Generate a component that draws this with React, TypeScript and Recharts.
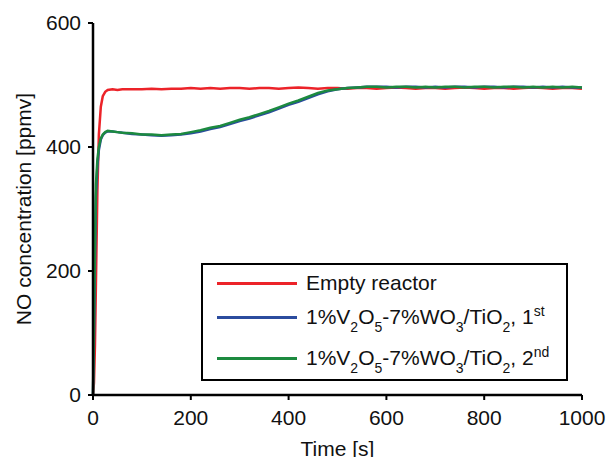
import { LineChart, Line, XAxis, YAxis, Legend } from "recharts";

const times = [
  0, 2, 4, 6, 9, 12, 16, 20, 25, 30, 40, 50, 60, 80,
  100, 120, 140, 160, 180, 200, 220, 240, 260, 280,
  300, 320, 340, 360, 380, 400, 420, 440, 460, 480,
  500, 520, 540, 560, 580, 600, 620, 640, 660, 680,
  700, 720, 740, 760, 780, 800, 820, 840, 860, 880,
  900, 920, 940, 960, 980, 1000,
];

const emptyReactor = [
  0, 20, 80, 180, 330, 420, 465, 482, 489, 492,
  493, 492, 493, 493,
  493, 494, 493, 494, 494, 495, 494, 495, 494, 495,
  495, 494, 495, 495, 494, 495, 496, 495, 494, 495,
  495, 494, 495, 495, 494, 495, 496, 495, 494, 495,
  495, 494, 495, 496, 495, 494, 495, 495, 494, 495,
  496, 495, 494, 495, 495, 494,
];

const firstRun = [
  0, 90, 210, 320, 370, 395, 412, 419, 423, 425,
  425, 424, 423, 421,
  420, 419, 418, 419, 420, 422, 425, 429, 432, 437,
  442, 446, 451, 456, 462, 468, 473, 479, 485, 490,
  493, 495, 496, 497, 497, 497, 496, 497, 497, 496,
  497, 496, 497, 497, 496, 497, 497, 496, 497, 497,
  496, 497, 496, 497, 496, 496,
];

const secondRun = [
  0, 120, 240, 340, 380, 400, 414, 420, 424, 426,
  425, 424, 423, 422,
  420, 420, 419, 420, 421, 424, 427, 431, 434, 439,
  444, 448, 453, 458, 464, 470, 475, 481, 487, 491,
  493, 495, 496, 497, 497, 496, 497, 497, 496, 497,
  496, 497, 497, 496, 497, 497, 496, 497, 497, 496,
  497, 496, 497, 496, 497, 496,
];

const xTicks = [0, 200, 400, 600, 800, 1000];
const yTicks = [0, 200, 400, 600];

const data = times.map((t, i) => ({
  t,
  empty: emptyReactor[i],
  first: firstRun[i],
  second: secondRun[i],
}));

const FONT = "'Liberation Sans', Arial, sans-serif";
const FS = 21;

const RED = "#ec2329";
const BLUE = "#2b4c9e";
const GREEN = "#1c8a3f";

const sub = { fontSize: 14, position: "relative" as const, top: 8 };
const sup = { fontSize: 14, position: "relative" as const, top: -8 };

function CatalystLabel({ run }: { run: "st" | "nd" }) {
  return (
    <span>
      1%V<span style={sub}>2</span>O<span style={sub}>5</span>-7%WO
      <span style={sub}>3</span>/TiO<span style={sub}>2</span>, {run === "st" ? "1" : "2"}
      <span style={sup}>{run}</span>
    </span>
  );
}

const legendRows = [
  { color: RED, top: 18, label: <span>Empty reactor</span> },
  { color: BLUE, top: 52, label: <CatalystLabel run="st" /> },
  { color: GREEN, top: 93, label: <CatalystLabel run="nd" /> },
];

function LegendBox() {
  return (
    <div
      style={{
        position: "relative",
        width: 363,
        height: 114,
        border: "2.5px solid #000",
        background: "#fff",
        fontFamily: FONT,
        fontSize: FS,
        color: "#111",
      }}
    >
      {legendRows.map((r, i) => (
        <div key={i} style={{ position: "absolute", left: 0, top: r.top, width: "100%" }}>
          <div
            style={{
              position: "absolute",
              left: 14,
              top: -1.5,
              width: 80,
              height: 3,
              background: r.color,
            }}
          />
          <div
            style={{
              position: "absolute",
              left: 103,
              top: -12,
              lineHeight: "24px",
              whiteSpace: "nowrap",
            }}
          >
            {r.label}
          </div>
        </div>
      ))}
    </div>
  );
}

export default function App() {
  return (
    <div style={{ position: "absolute", left: 0, top: 0, width: 606, height: 457, background: "#fff" }}>
      <LineChart
        width={606}
        height={457}
        data={data}
        margin={{ top: 23, right: 24, bottom: 0, left: 0 }}
      >
        <XAxis
          dataKey="t"
          type="number"
          domain={[0, 1000]}
          ticks={xTicks}
          height={62}
          stroke="#000"
          axisLine={{ strokeWidth: 2.5 }}
          tickLine={{ strokeWidth: 2 }}
          tickSize={5}
          tickMargin={10}
          tick={{ fill: "#111", fontSize: FS, fontFamily: FONT }}
          label={{
            content: ({ viewBox }: any) => (
              <text
                x={viewBox.x + viewBox.width / 2}
                y={viewBox.y + 61}
                textAnchor="middle"
                fill="#111"
                fontSize={FS}
                fontFamily={FONT}
              >
                Time [s]
              </text>
            ),
          }}
        />
        <XAxis
          xAxisId="top"
          dataKey="t"
          type="number"
          orientation="top"
          domain={[0, 1000]}
          ticks={xTicks}
          height={0}
          mirror
          tick={false}
          stroke="#000"
          axisLine={{ strokeWidth: 2.5 }}
          tickLine={{ strokeWidth: 2 }}
          tickSize={5}
        />
        <YAxis
          type="number"
          domain={[0, 600]}
          ticks={yTicks}
          width={93}
          stroke="#000"
          axisLine={{ strokeWidth: 2.5 }}
          tickLine={{ strokeWidth: 2 }}
          tickSize={5}
          tickMargin={7}
          tick={{ fill: "#111", fontSize: FS, fontFamily: FONT }}
          label={{
            content: ({ viewBox }: any) => {
              const cy = viewBox.y + viewBox.height / 2;
              return (
                <text
                  x={31}
                  y={cy}
                  transform={`rotate(-90 31 ${cy})`}
                  textAnchor="middle"
                  fill="#111"
                  fontSize={FS}
                  fontFamily={FONT}
                >
                  NO concentration [ppmv]
                </text>
              );
            },
          }}
        />
        <YAxis
          yAxisId="right"
          type="number"
          orientation="right"
          domain={[0, 600]}
          ticks={yTicks}
          width={0}
          mirror
          tick={false}
          stroke="#000"
          axisLine={{ strokeWidth: 2.5 }}
          tickLine={{ strokeWidth: 2 }}
          tickSize={5}
        />
        <Legend
          layout="vertical"
          align="center"
          verticalAlign="middle"
          wrapperStyle={{ left: 201, top: 263, width: 368, height: 119 }}
          content={() => <LegendBox />}
        />
        <Line
          dataKey="empty"
          name="Empty reactor"
          stroke={RED}
          strokeWidth={2.5}
          dot={false}
          type="linear"
          isAnimationActive={false}
        />
        <Line
          dataKey="first"
          name="1st"
          stroke={BLUE}
          strokeWidth={2.5}
          dot={false}
          type="linear"
          isAnimationActive={false}
        />
        <Line
          dataKey="second"
          name="2nd"
          stroke={GREEN}
          strokeWidth={2.5}
          dot={false}
          type="linear"
          isAnimationActive={false}
        />
      </LineChart>
    </div>
  );
}
